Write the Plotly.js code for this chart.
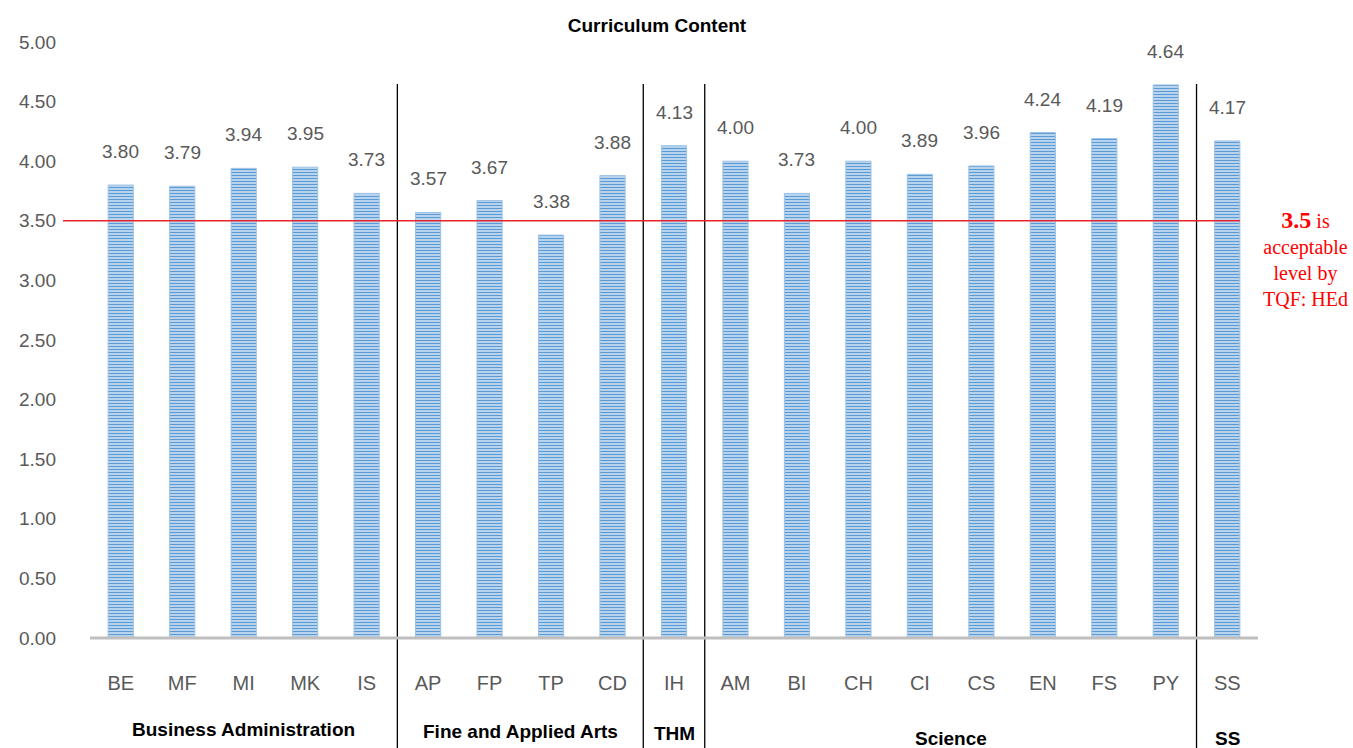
<!DOCTYPE html>
<html>
<head>
<meta charset="utf-8">
<script src="https://cdn.plot.ly/plotly-3.0.1.min.js"></script>
<style>html,body{margin:0;padding:0;background:#fff;}#chart{width:1353px;height:748px;}</style>
</head>
<body>
<div id="chart"></div>
<script>
var categories = ["BE","MF","MI","MK","IS","AP","FP","TP","CD","IH","AM","BI","CH","CI","CS","EN","FS","PY","SS"];
var values = [3.80,3.79,3.94,3.95,3.73,3.57,3.67,3.38,3.88,4.13,4.00,3.73,4.00,3.89,3.96,4.24,4.19,4.64,4.17];
var groupNames = ["Business Administration","Fine and Applied Arts","THM","Science","SS"];
var groupSizes = [5,4,1,8,1];
var threshold = 3.5;
var yTicks = [0,0.5,1,1.5,2,2.5,3,3.5,4,4.5,5];
var yMax = 5;

var W = 1353, H = 748;
var L = 90, R = 95, T = 42, B = 110;
var plotW = W - L - R, plotH = H - T - B;
var n = categories.length;

var idx = categories.map(function(c,i){return i;});

var trace = {
  type: 'bar',
  x: idx,
  y: values,
  width: 0.41,
  marker: {
    color: '#cfe0f3',
    line: {color: '#9dc3e6', width: 1},
    pattern: {shape: '-', fgcolor: '#5b9bd5', bgcolor: '#d6e6f6', size: 3, solidity: 0.5}
  },
  hoverinfo: 'none'
};

var annotations = [];
values.forEach(function(v,i){
  annotations.push({x: i, y: v, xref:'x', yref:'y', text: v.toFixed(2), showarrow:false,
    yanchor:'bottom', yshift: 21, font:{family:'Liberation Sans, Arial', size:19, color:'#595959'}});
});

var shapes = [];
var start = 0;
var groupLabelY = [729,731,733,738,739];
groupSizes.forEach(function(s,g){
  var end = start + s;
  var cx = (start + end)/2 / n;
  annotations.push({x: cx, y: 1 - (groupLabelY[g]-T)/plotH, xref:'paper', yref:'paper', text: '<b>'+groupNames[g]+'</b>',
    showarrow:false, xanchor:'center', yanchor:'middle', font:{family:'Liberation Sans, Arial', size:19, color:'#000'}});
  if (end < n) {
    shapes.push({type:'line', xref:'paper', yref:'paper', x0: end/n, x1: end/n,
      y0: 1 - (84-T)/plotH, y1: -B/plotH - 0.01, line:{color:'#000', width:1.3}});
  }
  start = end;
});

shapes.push({type:'line', xref:'paper', yref:'paper', x0: (63-L)/plotW, x1: (1240-L)/plotW,
  y0: threshold/yMax, y1: threshold/yMax, line:{color:'#e8242c', width:1.5}, layer:'above'});

annotations.push({x: (1305-L)/plotW, y: 1 - (205-T)/plotH, xref:'paper', yref:'paper', showarrow:false,
  xanchor:'center', yanchor:'top', align:'center',
  text: '<b><span style="font-size:24px">'+threshold.toFixed(1)+'</span></b> is<br>acceptable<br>level by<br>TQF: HEd',
  font:{family:'Liberation Serif, Times New Roman', size:20, color:'#ff0000'}});

var layout = {
  width: W, height: H,
  margin: {l: L, r: R, t: T, b: B, pad: 0},
  paper_bgcolor: '#fff', plot_bgcolor: '#fff',
  showlegend: false,
  title: {text: '<b>Curriculum Content</b>', x: 657/W, xanchor:'center', xref:'container',
    y: 1 - 25/H, yanchor:'middle', yref:'container',
    font:{family:'Liberation Sans, Arial', size:19, color:'#000'}},
  xaxis: {
    range: [-0.5, n-0.5], tickmode:'array', tickvals: idx, ticktext: categories,
    showgrid:false, zeroline:false, showline:false, ticks:'',
    tickfont:{family:'Liberation Sans Narrow, Arial Narrow, Liberation Sans', size:20, color:'#595959'},
    ticklabelstandoff: 31, fixedrange:true
  },
  yaxis: {
    range: [0, yMax], tickmode:'array', tickvals: yTicks, ticktext: yTicks.map(function(t){return t.toFixed(2);}),
    showgrid:false, zeroline:false, showline:false, ticks:'',
    tickfont:{family:'Liberation Sans, Arial', size:19, color:'#595959'},
    ticklabelstandoff: 33, fixedrange:true
  },
  shapes: shapes.concat([{type:'line', xref:'paper', yref:'paper', x0:0, x1:1, y0:0, y1:0,
    line:{color:'#bfbfbf', width:3}, layer:'above'}]),
  annotations: annotations,
  bargap: 0.59
};

Plotly.newPlot('chart', [trace], layout, {displayModeBar:false, staticPlot:true});
</script>
</body>
</html>
